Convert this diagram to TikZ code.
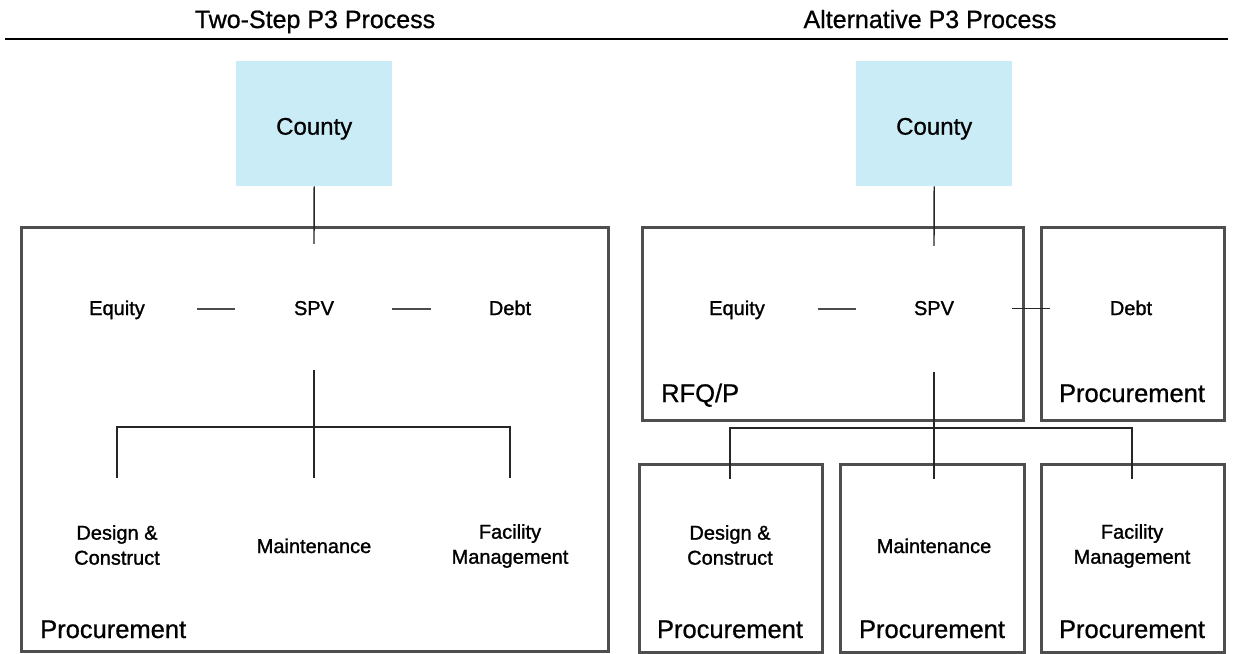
\documentclass[tikz,border=0pt]{standalone}
\usepackage{fontspec}
\setmainfont{Liberation Sans}
\newfontfamily\heavyfont[FakeBold=1.3]{Liberation Sans}
\newfontfamily\midfont[FakeBold=0.8]{Liberation Sans}
\definecolor{countyblue}{RGB}{202,236,247}
\definecolor{framegray}{RGB}{78,78,78}
\begin{document}
\begin{tikzpicture}[x=1pt,y=-1pt,
  frame/.style={draw=framegray, line width=3.2pt, rectangle, inner sep=0pt, anchor=north west},
  countybox/.style={fill=countyblue, rectangle, inner sep=0pt, anchor=north west,
    minimum width=156pt, minimum height=125pt, text height=22pt, text depth=0pt,
    font=\midfont\fontsize{24}{28}\selectfont},
  ttl/.style={font=\midfont\fontsize{25}{30}\selectfont, anchor=base, inner sep=0pt},
  lbl/.style={font=\heavyfont\fontsize{20}{25}\selectfont, inner sep=0pt, align=center},
  proc/.style={font=\midfont\fontsize{25.5}{30}\selectfont, inner sep=0pt},
  conn/.style={draw=black!85, line width=1.4pt},
  dashc/.style={draw=black!70, line width=2.2pt}
]
\useasboundingbox (0,0) rectangle (1233,653);

% titles and rule
\node[ttl] (t1) at (315,28) {Two-Step P3 Process};
\node[ttl] (t2) at (930,28) {Alternative P3 Process};
\draw[line width=2.5pt] (5,39) -- (1228,39);

% ---------- left: two-step ----------
\node[countybox] (lcounty) at (236,61) {County};
\node[frame, minimum width=587pt, minimum height=424pt] (lbox) at (20,226) {};
\node[lbl, anchor=base] (leq) at (117,315) {Equity};
\node[lbl, anchor=base] (lspv) at (314,315) {SPV};
\node[lbl, anchor=base] (ldebt) at (510,315) {Debt};
\node[lbl] (ldc) at (117,545) {Design \&\\Construct};
\node[lbl, anchor=base] (lmt) at (314,553) {Maintenance};
\node[lbl] (lfm) at (510,546) {Facility\\Management};
\node[proc, anchor=base west] (lproc) at (40,638) {Procurement};

\draw[conn] (lcounty.south) -- ([yshift=57pt]lspv.north);
\draw[dashc] ([shift={(80pt,3.7pt)}]leq.mid) -- ([shift={(-79pt,3.7pt)}]lspv.mid);
\draw[dashc] ([shift={(78pt,3.7pt)}]lspv.mid) -- ([shift={(-79pt,3.7pt)}]ldebt.mid);
\coordinate (lj) at (314,427);
\draw[conn] ([yshift=-55pt]lspv.base) -- ([yshift=60pt]lmt.north);
\draw[conn] ([yshift=47pt]ldc.north) |- (lj) -| ([yshift=46pt]lfm.north);

% ---------- right: alternative ----------
\node[countybox] (rcounty) at (856,61) {County};
\node[frame, minimum width=381pt, minimum height=193pt] (rfq) at (641,226) {};
\node[frame, minimum width=183pt, minimum height=193pt] (dbox) at (1040,226) {};
\node[frame, minimum width=183pt, minimum height=188pt] (b1) at (638,463) {};
\node[frame, minimum width=184pt, minimum height=188pt] (b2) at (839,463) {};
\node[frame, minimum width=183pt, minimum height=188pt] (b3) at (1040,463) {};

\node[lbl, anchor=base] (req) at (737,315) {Equity};
\node[lbl, anchor=base] (rspv) at (934,315) {SPV};
\node[lbl, anchor=base] (rdebt) at (1131,315) {Debt};
\node[proc, anchor=base west] (rfqlbl) at (661,402) {RFQ/P};
\node[proc, anchor=base] (dproc) at (1132,402) {Procurement};
\node[lbl] (rdc) at (730,545) {Design \&\\Construct};
\node[lbl, anchor=base] (rmt) at (934,553) {Maintenance};
\node[lbl] (rfm) at (1132,546) {Facility\\Management};
\node[proc, anchor=base] (bp1) at (730,638) {Procurement};
\node[proc, anchor=base] (bp2) at (932,638) {Procurement};
\node[proc, anchor=base] (bp3) at (1132,638) {Procurement};

\draw[conn] (rcounty.south) -- ([yshift=55pt]rspv.north);
\draw[dashc] ([shift={(81pt,3.7pt)}]req.mid) -- ([shift={(-78pt,3.7pt)}]rspv.mid);
\draw[conn] ([shift={(78pt,3.7pt)}]rspv.mid) -- ([shift={(-81pt,3.7pt)}]rdebt.mid);
\coordinate (rj) at (934,428);
\draw[conn] ([yshift=-57pt]rspv.base) -- ([yshift=59pt]rmt.north);
\draw[conn] ([yshift=46pt]rdc.north) |- (rj) -| ([yshift=45pt]rfm.north);
\end{tikzpicture}
\end{document}
